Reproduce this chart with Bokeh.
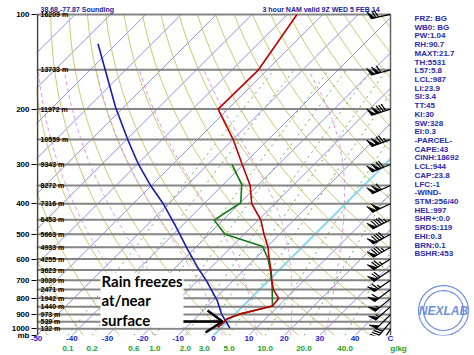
import numpy as np
from bokeh.plotting import figure
from bokeh.models import Range1d, FixedTicker, LinearAxis
from bokeh.embed import file_html
from bokeh.resources import INLINE
from bokeh.core.properties import value

# ---------------- data ----------------
TITLE_LEFT = "38.68,-77.87 Sounding"
TITLE_RIGHT = "3 hour NAM valid 9Z WED  5 FEB 14"

temp_p = [990, 968, 931, 898, 846, 800, 750, 700, 650, 600, 550, 500, 450, 400, 350, 300, 250, 200, 150, 100]
temp_c = [-1.1, -0.9, -0.9, 1.3, 8.3, 7.9, 3.9, 0.8, -2.3, -5.9, -9.6, -14.4, -19.4, -26.5, -32.1, -40.3, -49.9, -62.8, -62.5, -67.3]

dewp_p = [990, 968, 931, 898, 846, 728, 660, 600, 547, 500, 451, 397, 348, 300]
dewp_c = [-1.1, -0.9, -0.9, 1.3, 8.3, 2.4, -1.8, -6.2, -11.3, -25.4, -32.5, -29.9, -34.7, -43.2]

parcel_p = [994, 899, 815, 710, 633, 558, 476, 400, 348, 300, 250, 198, 124]
parcel_c = [2.5, -3.7, -8.7, -16.9, -24.2, -31.8, -41.1, -51.5, -60.6, -69.6, -79.7, -92.1, -115.2]

level_p = [100, 150, 200, 250, 300, 350, 400, 450, 500, 550, 600, 650, 700, 750, 800, 850, 900, 950, 1000]
level_hgt = [16209, 13733, 11972, 10559, 9343, 8272, 7316, 6453, 5663, 4933, 4255, 3623, 3030, 2471, 1942, 1440, 973, 539, 132]

wind_dir = [258, 255, 252, 250, 248, 246, 245, 243, 241, 240, 238, 236, 235, 233, 230, 228, 225, 220, 212]
wind_kt = [70, 110, 130, 125, 120, 110, 100, 95, 90, 85, 75, 70, 65, 60, 55, 55, 50, 40, 20]

press_ticks = [100, 200, 300, 400, 500, 600, 700, 800, 900, 1000]
press_labels = ["100", "200", "300", "400", "500", "600", "700", "800", "900", "1000"]
temp_ticks = [-50, -40, -30, -20, -10, 0, 10, 20, 30, 40, 50]
temp_labels = ["-50", "-40", "-30", "-20", "-10", "0", "10", "20", "30", "40", "C"]
mixr_values = [0.1, 0.2, 0.6, 1.0, 2.0, 3.0, 5.0, 10.0, 20.0, 40.0]
mixr_labels = ["0.1", "0.2", "0.6", "1.0", "2.0", "3.0", "5.0", "10.0", "20.0", "40.0"]
mixr_unit = "g/kg"

isotherm_c = list(range(-140, 51, 10))
dry_t1000_c = list(range(-60, 181, 10))
moist_t1000_c = [-20, -10, 0, 10, 20, 30]

stats_lines = ["FRZ: BG", "WB0: BG", "PW:1.04", "RH:90.7", "MAXT:21.7", "TH:5531",
               "L57:5.8", "LCL:987", "LI:23.9", "SI:3.4", "TT:45", "KI:30", "SW:328",
               "EI:0.3", "-PARCEL-", "CAPE:43", "CINH:18692", "LCL:944", "CAP:23.8",
               "LFC:-1", "-WIND-", "STM:256/40", "HEL:997", "SHR+:0.0", "SRDS:119",
               "EHI:0.3", "BRN:0.1", "BSHR:453"]
note_lines = ["Rain freezes", "at/near", "surface"]
logo_text = "NEXLAB"

# ---------------- geometry ----------------
P_BOT, P_TOP = 1050.0, 100.0
SKEW = 38.65
W, H = 474, 355
BL, BB = 36, 19
XPX = 3.54                       # px per degree along x
PAGE_TOP100 = 14                 # y of the 100 mb line
PAGE_BOT = H - BB                # y of the frame bottom (1050 mb)
KPX = (PAGE_BOT - PAGE_TOP100) / np.log(P_BOT / P_TOP)
X_END = -50 + (W - BL) / XPX
Y_END = P_TOP * np.exp(-PAGE_TOP100 / KPX)
FONT = "Liberation Sans"


def skew_x(t, p):
    return np.asarray(t, dtype=float) + SKEW * np.log(P_BOT / np.asarray(p, dtype=float))


def page_x(xp):
    return -50 + (np.asarray(xp, dtype=float) - BL) / XPX


def page_p(yp):
    return P_TOP * np.exp((np.asarray(yp, dtype=float) - PAGE_TOP100) / KPX)


def td_from_w(w, p):
    p = np.asarray(p, dtype=float)
    e = (w / 1000.0) * p / (0.622 + w / 1000.0)
    lg = np.log(e / 6.112)
    return 243.5 * lg / (17.67 - lg)


def dTdp(T, P):
    es = 6.112 * np.exp(17.67 * (T - 273.15) / (T - 29.65))
    rs = 0.622 * es / (P - es)
    return (287.04 * T + 2.501e6 * rs) / (1005.7 + (2.501e6 ** 2 * rs * 0.622) / (287.04 * T ** 2)) / P


def integrate(T0, p_from, p_to, dp):
    ps = np.arange(p_from, p_to + (dp * 0.5), dp)
    T = np.array(T0, dtype=float)
    out = [T.copy()]
    for i in range(len(ps) - 1):
        P = ps[i]
        k1 = dTdp(T, P)
        k2 = dTdp(T + 0.5 * dp * k1, P + 0.5 * dp)
        k3 = dTdp(T + 0.5 * dp * k2, P + 0.5 * dp)
        k4 = dTdp(T + dp * k3, P + dp)
        T = T + dp / 6.0 * (k1 + 2 * k2 + 2 * k3 + k4)
        out.append(T.copy())
    return ps, np.array(out)


p = figure(width=W, height=H, x_range=Range1d(-50, X_END), y_range=Range1d(P_BOT, Y_END),
           y_axis_type="log", output_backend="svg", toolbar_location=None,
           min_border_left=BL, min_border_right=0, min_border_top=0, min_border_bottom=BB,
           background_fill_color="white", border_fill_color="white",
           outline_line_color=None)
p.grid.visible = False

# axes
xa = p.xaxis[0]
xa.ticker = FixedTicker(ticks=temp_ticks)
xa.major_label_overrides = {t: l for t, l in zip(temp_ticks, temp_labels)}
xa.major_label_text_color = "#2222c4"
xa.major_label_text_font = FONT
xa.major_label_text_font_style = "bold"
xa.major_label_text_font_size = "8px"
xa.major_label_standoff = -2
xa.major_tick_out = 0
xa.minor_tick_out = 0
xa.major_tick_line_color = None
xa.minor_tick_line_color = None
xa.axis_line_color = None

mix_x = [round(float(td_from_w(w, P_BOT)), 3) for w in mixr_values]
unit_x = round(page_x(398).item(), 3)
mlab = {x: l for x, l in zip(mix_x, mixr_labels)}
mlab[unit_x] = mixr_unit
ma = LinearAxis(ticker=FixedTicker(ticks=mix_x + [unit_x]),
                major_label_overrides=mlab,
                axis_line_color=None, major_tick_line_color=None, minor_tick_line_color=None,
                major_tick_out=0, minor_tick_out=0,
                major_label_text_color="#22a022", major_label_text_font=FONT,
                major_label_text_font_style="bold", major_label_text_font_size="8px",
                major_label_standoff=-2)
p.add_layout(ma, "below")

ya = p.yaxis[0]
ya.ticker = FixedTicker(ticks=press_ticks + [P_BOT])
ov = {t: l for t, l in zip(press_ticks, press_labels)}
ov[P_BOT] = "mb"
ya.major_label_overrides = ov
ya.major_label_text_color = "black"
ya.major_label_text_font = FONT
ya.major_label_text_font_style = "bold"
ya.major_label_text_font_size = "8px"
ya.major_label_standoff = 2
ya.major_tick_in = 0
ya.major_tick_out = 5
ya.minor_tick_out = 0
ya.major_tick_line_color = "black"
ya.minor_tick_line_color = None
ya.axis_line_color = None

# background: isotherms
iso_xs = [[float(skew_x(t, P_BOT)), float(skew_x(t, P_TOP))] for t in isotherm_c if t != 0]
iso_ys = [[P_BOT, P_TOP] for t in isotherm_c if t != 0]
p.multi_line(iso_xs, iso_ys, line_color="#9090ea", line_width=1)

# dry adiabats
pp = np.geomspace(P_BOT, P_TOP, 80)
dry_xs, dry_ys = [], []
for t0 in dry_t1000_c:
    th = t0 + 273.15
    tt = th * (pp / 1000.0) ** 0.2857 - 273.15
    dry_xs.append(list(skew_x(tt, pp)))
    dry_ys.append(list(pp))
p.multi_line(dry_xs, dry_ys, line_color="#c9c870", line_width=1)

# moist adiabats
T0 = np.array(moist_t1000_c, dtype=float) + 273.15
ps_up, T_up = integrate(T0, 1000.0, 150.0, -2.0)
ps_dn, T_dn = integrate(T0, 1000.0, P_BOT, 2.0)
m_xs, m_ys = [], []
for i in range(len(moist_t1000_c)):
    pr = np.concatenate([ps_dn[::-1], ps_up[1:]])
    tr = np.concatenate([T_dn[::-1, i], T_up[1:, i]]) - 273.15
    m_xs.append(list(skew_x(tr, pr)))
    m_ys.append(list(pr))
p.multi_line(m_xs, m_ys, line_color="#e48ae4", line_width=1, line_dash="4 3")

# mixing ratio lines
pm = np.geomspace(P_BOT, 150.0, 40)
w_xs, w_ys = [], []
for w in mixr_values:
    w_xs.append(list(skew_x(td_from_w(w, pm), pm)))
    w_ys.append(list(pm))
p.multi_line(w_xs, w_ys, line_color="#5cb85c", line_width=1, line_dash="2 4")

# 0 C isotherm
p.line([float(skew_x(0, P_BOT)), float(skew_x(0, P_TOP))], [P_BOT, P_TOP],
       line_color="#88d8f2", line_width=2)

# white cover outside the diagram (right panel and title strip)
p.quad(left=50, right=X_END + 1, bottom=P_BOT, top=Y_END * 0.9, fill_color="white", line_color=None)
p.quad(left=-51, right=X_END + 1, bottom=P_TOP, top=Y_END * 0.9, fill_color="white", line_color=None)

# pressure level lines and borders
p.segment(x0=-50, x1=50, y0=level_p, y1=level_p, line_color="#858585", line_width=2)
p.segment(x0=[-50 + 0.3, 50], x1=[-50 + 0.3, 50], y0=[P_BOT, P_BOT], y1=[P_TOP, P_TOP],
          line_color=["#444444", "#666666"], line_width=[1.5, 1.5])

# profiles
p.line(list(skew_x(parcel_c, parcel_p)), parcel_p, line_color="#1a1ab8", line_width=1.6)
p.line(list(skew_x(dewp_c, dewp_p)), dewp_p, line_color="#117a11", line_width=1.6)
p.line(list(skew_x(temp_c, temp_p)), temp_p, line_color="#c00000", line_width=1.6)

# wind barbs
bxs, bys, fxs, fys = [], [], [], []


def to_data(pl, dx, dy):
    return 50 + dx / XPX, pl * np.exp(dy / KPX)


for pl, d, s in zip(level_p, wind_dir, wind_kt):
    r = np.deg2rad(d)
    ux, uy = np.sin(r), -np.cos(r)
    nx, ny = -uy, ux
    fx_, fy_ = nx + 0.35 * ux, ny + 0.35 * uy
    nn = np.hypot(fx_, fy_)
    fx_, fy_ = fx_ / nn, fy_ / nn
    L, FL, SP = 20.0, 8.0, 2.6
    a = to_data(pl, 0, 0)
    b = to_data(pl, L * ux, L * uy)
    bxs.append([a[0], b[0]])
    bys.append([a[1], b[1]])
    nfl = s // 50
    rem = s - 50 * nfl
    nfull = rem // 10
    half = (rem % 10) >= 5
    pos = L
    for _ in range(nfl):
        q0 = to_data(pl, pos * ux, pos * uy)
        q1 = to_data(pl, pos * ux + FL * fx_, pos * uy + FL * fy_)
        q2 = to_data(pl, (pos - 4) * ux, (pos - 4) * uy)
        fxs.append([q0[0], q1[0], q2[0]])
        fys.append([q0[1], q1[1], q2[1]])
        pos -= 5
    for _ in range(nfull):
        q0 = to_data(pl, pos * ux, pos * uy)
        q1 = to_data(pl, pos * ux + FL * fx_, pos * uy + FL * fy_)
        bxs.append([q0[0], q1[0]])
        bys.append([q0[1], q1[1]])
        pos -= SP
    if half:
        q0 = to_data(pl, pos * ux, pos * uy)
        q1 = to_data(pl, pos * ux + FL * 0.5 * fx_, pos * uy + FL * 0.5 * fy_)
        bxs.append([q0[0], q1[0]])
        bys.append([q0[1], q1[1]])
p.multi_line(bxs, bys, line_color="black", line_width=1.2)
p.patches(fxs, fys, fill_color="black", line_color="black", line_width=0.8)

# height labels
p.text(x=[float(page_x(40))] * len(level_p), y=level_p, text=[f"{h} m" for h in level_hgt],
       text_font=value(FONT), text_font_size="7px", text_font_style="bold",
       text_color="black", text_baseline="middle", text_align="left")

# note box
p.quad(left=float(page_x(100)), right=float(page_x(183)), top=float(page_p(273)),
       bottom=float(page_p(328)), fill_color="white", line_color=None)
p.text(x=[float(page_x(101))] * 3, y=[float(page_p(y)) for y in (281, 300, 320)], text=note_lines,
       text_font=value("Lato"), text_font_style="bold", text_font_size="15px",
       text_color="black", text_baseline="middle", text_align="left")
ax_ = [[float(page_x(183)), float(page_x(222))], [float(page_x(207)), float(page_x(222))],
       [float(page_x(205)), float(page_x(222))]]
ay_ = [[float(page_p(322)), float(page_p(322))], [float(page_p(311)), float(page_p(322))],
       [float(page_p(333)), float(page_p(322))]]
p.multi_line(ax_, ay_, line_color="black", line_width=2.5)

# titles
p.text(x=[float(page_x(40)), float(page_x(262))], y=[float(page_p(9.5))] * 2,
       text=[TITLE_LEFT, TITLE_RIGHT], text_font=value(FONT), text_font_size="7px",
       text_font_style="bold", text_color="#22229c", text_baseline="middle", text_align="left")

# stats panel
p.text(x=[float(page_x(414))] * len(stats_lines),
       y=[float(page_p(18 + i * 8.74)) for i in range(len(stats_lines))],
       text=stats_lines, text_font=value(FONT), text_font_size="8px", text_font_style="bold",
       text_color="#2a2aaa", text_baseline="middle", text_align="left")

# logo
tt = np.linspace(0, 2 * np.pi, 72)
cx, cy = 443, 311
p.patches([list(page_x(cx + rr * np.cos(tt))) for rr in (25, 20)],
          [list(page_p(cy + rr * np.sin(tt))) for rr in (25, 20)],
          fill_color=None, line_color="#6f8fdc", line_width=1.2)
p.text(x=[float(page_x(cx))], y=[float(page_p(cy))], text=[logo_text], text_font=value(FONT),
       text_font_size="12px", text_font_style="bold italic", text_color="#6f8fdc",
       text_baseline="middle", text_align="center")

open("out.html", "w").write(file_html(p, INLINE))
